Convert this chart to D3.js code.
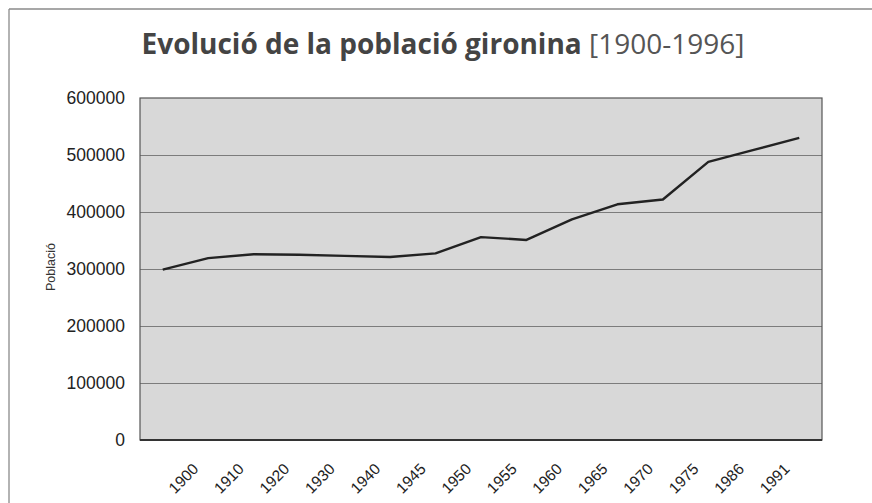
<!DOCTYPE html>
<html>
<head>
<meta charset="utf-8">
<script src="https://cdn.jsdelivr.net/npm/d3@7"></script>
<style>
  html, body { margin: 0; padding: 0; background: #fff; }
  svg { display: block; }
</style>
</head>
<body>
<svg id="chart" width="872" height="503"></svg>
<script>
// ---- data ----
const titleBold = "Evolució de la població gironina";
const titleRange = "[1900-1996]";
const yAxisTitle = "Població";
const yearLabels = ["1900", "1910", "1920", "1930", "1940", "1945", "1950", "1955", "1960", "1965", "1970", "1975", "1986", "1991"];
const population = [299000, 319000, 326000, 325000, 323000, 321000, 327500, 356000, 351000, 387000, 413500, 422000, 488000, 509000, 530000];
const yTicks = [0, 100000, 200000, 300000, 400000, 500000, 600000];

// ---- layout ----
const W = 872, H = 503;
const plot = { left: 140, right: 822, top: 98, bottom: 440 };

const svg = d3.select("#chart");

// outer frame (top and left edges)
svg.append("line").attr("x1", 9).attr("x2", W).attr("y1", 9).attr("y2", 9)
  .attr("stroke", "#8a8a8a").attr("stroke-width", 1.3);
svg.append("line").attr("x1", 9).attr("x2", 9).attr("y1", 9).attr("y2", H)
  .attr("stroke", "#8a8a8a").attr("stroke-width", 1.3);

// title
const title = svg.append("text")
  .attr("x", (141 + 745) / 2).attr("y", 54)
  .attr("text-anchor", "middle")
  .attr("font-family", "'Open Sans', 'DejaVu Sans', sans-serif")
  .attr("font-size", 28)
  .attr("fill", "#444");
title.append("tspan").attr("font-weight", "bold").text(titleBold + " ");
title.append("tspan").attr("font-weight", "normal").attr("fill", "#555").text(titleRange);

// scales
const x = d3.scaleLinear().domain([0, population.length]).range([plot.left, plot.right]);
const y = d3.scaleLinear().domain([0, 600000]).range([plot.bottom, plot.top]);

// plot background
svg.append("rect")
  .attr("x", plot.left).attr("y", plot.top)
  .attr("width", plot.right - plot.left).attr("height", plot.bottom - plot.top)
  .attr("fill", "#d8d8d8");

// gridlines
const grid = svg.append("g")
  .attr("transform", `translate(${plot.left},0)`)
  .call(d3.axisLeft(y).tickValues(yTicks.slice(1, -1)).tickSize(-(plot.right - plot.left)).tickFormat(""));
grid.select(".domain").remove();
grid.selectAll("line").attr("stroke", "#7c7c7c").attr("stroke-width", 1);

// plot border
svg.append("rect")
  .attr("x", plot.left).attr("y", plot.top)
  .attr("width", plot.right - plot.left).attr("height", plot.bottom - plot.top)
  .attr("fill", "none").attr("stroke", "#555").attr("stroke-width", 1.2);

// bottom axis line (heavier)
svg.append("line")
  .attr("x1", plot.left).attr("x2", plot.right)
  .attr("y1", y(0)).attr("y2", y(0))
  .attr("stroke", "#333").attr("stroke-width", 2);

// y axis labels
const yAxis = svg.append("g")
  .attr("transform", `translate(${plot.left},0)`)
  .call(d3.axisLeft(y).tickValues(yTicks).tickSize(0).tickPadding(15).tickFormat(d => String(d)));
yAxis.select(".domain").remove();
yAxis.selectAll("text")
  .attr("font-family", "'Liberation Sans', Arial, sans-serif")
  .attr("font-size", 17.5)
  .attr("fill", "#222");

// y axis title
svg.append("text")
  .attr("transform", "translate(55,267) rotate(-90)")
  .attr("text-anchor", "middle")
  .attr("font-family", "'Liberation Sans', Arial, sans-serif")
  .attr("font-size", 12.5)
  .attr("fill", "#333")
  .text(yAxisTitle);

// x axis labels
const xAxis = svg.append("g")
  .attr("transform", `translate(0,${plot.bottom})`)
  .call(d3.axisBottom(x).tickValues(d3.range(1, yearLabels.length + 1)).tickSize(0)
    .tickFormat(k => yearLabels[k - 1]));
xAxis.select(".domain").remove();
xAxis.selectAll("text")
  .attr("x", 0).attr("y", 0).attr("dy", 0)
  .attr("text-anchor", "end")
  .attr("transform", "translate(13.5,30) rotate(-45)")
  .attr("font-family", "'Liberation Sans', Arial, sans-serif")
  .attr("font-size", 15.5)
  .attr("fill", "#1e1e1e");

// line
const line = d3.line()
  .x((d, i) => x(i + 0.5))
  .y(d => y(d));
svg.append("path")
  .datum(population)
  .attr("d", line)
  .attr("fill", "none")
  .attr("stroke", "#222")
  .attr("stroke-width", 2.4)
  .attr("stroke-linejoin", "round");
</script>
</body>
</html>
